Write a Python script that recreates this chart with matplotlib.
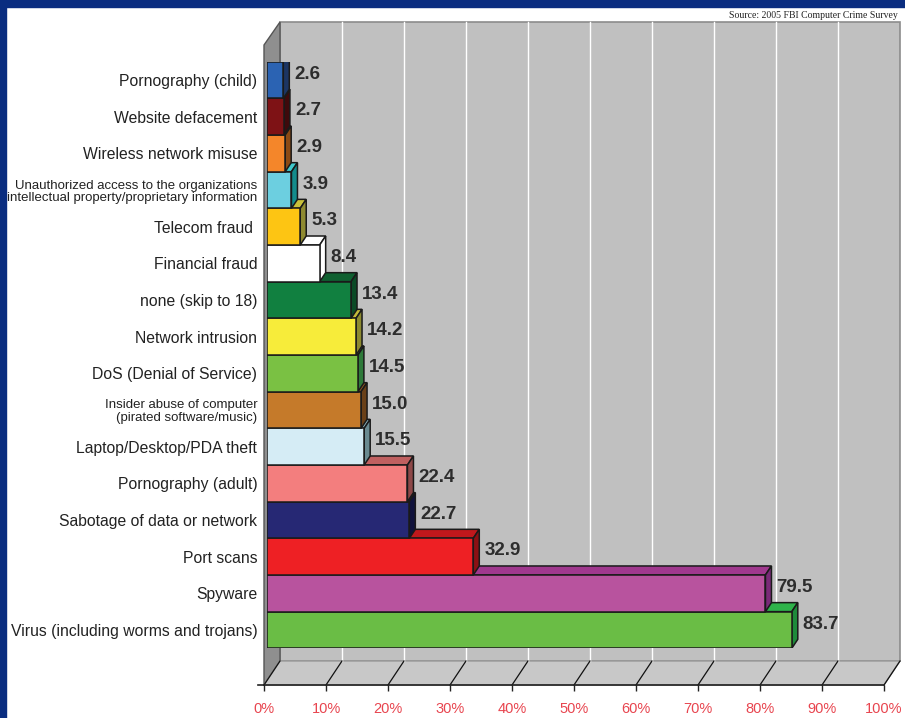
import numpy as np
import matplotlib.pyplot as plt
from matplotlib.patches import Polygon, Rectangle

# dados (de cima para baixo)
categorias = ['Pornography (child)', 'Website defacement', 'Wireless network misuse',
              'Unauthorized access to the organizations\nintellectual property/proprietary information',
              'Telecom fraud ', 'Financial fraud', 'none (skip to 18)', 'Network intrusion',
              'DoS (Denial of Service)', 'Insider abuse of computer\n(pirated software/music)',
              'Laptop/Desktop/PDA theft', 'Pornography (adult)', 'Sabotage of data or network',
              'Port scans', 'Spyware', 'Virus (including worms and trojans)']
valores = [2.6, 2.7, 2.9, 3.9, 5.3, 8.4, 13.4, 14.2, 14.5, 15.0, 15.5, 22.4, 22.7, 32.9, 79.5, 83.7]

cor_frente = ['#2b63b3', '#7e1215', '#f4862a', '#6ccfe0', '#fdc513', '#ffffff', '#118040', '#f7ec3a',
              '#7ac143', '#c57a2a', '#d5ecf5', '#f37e7e', '#262874', '#ee2024', '#b8539e', '#6abd45']
cor_topo = ['#1f57a8', '#6a1012', '#e07020', '#3fc8cc', '#c8c03a', '#ffffff', '#0f6030', '#c2b83a',
            '#5aa83a', '#8a5520', '#8ab0b8', '#c06060', '#1c1e5a', '#c0181c', '#a0388e', '#2eb34a']
cor_lado = ['#1c3563', '#3e0a0c', '#8b4a14', '#138c8c', '#8e8a30', '#ffffff', '#0b4a26', '#8c8a30',
            '#2e7a3a', '#6a4018', '#6a8a90', '#8e4848', '#10123c', '#8c1014', '#7a2a78', '#1e8a3a']

ticks = np.arange(0, 101, 10)

fonte_rotulos = ['Liberation Sans', 'DejaVu Sans']

W, H = 905, 718
fig = plt.figure(figsize=(W / 100, H / 100), dpi=100)

# moldura azul
fig.patches.append(Rectangle((0, 1 - 7 / H), 1, 7 / H, transform=fig.transFigure,
                             color='#0a2d80', zorder=0))
fig.patches.append(Rectangle((0, 0), 6 / W, 1, transform=fig.transFigure,
                             color='#0a2d80', zorder=0))

# =========================
# paredes / piso / eixo x
# =========================
bg = fig.add_axes([264 / W, 33 / H, 620 / W, 663 / H])
bg.set_xlim(0, 100)
bg.set_ylim(0, 1)
bg.patch.set_visible(False)
for s in ['top', 'right', 'left']:
    bg.spines[s].set_visible(False)
bg.spines['bottom'].set_color('#222222')
bg.spines['bottom'].set_linewidth(1.2)
bg.set_yticks([])

dxb = 16 / 6.2
dyb = 24 / 663

bg.add_patch(Rectangle((dxb, dyb), 100, 1 - dyb, fc='#c0c0c0', ec='#8c8c8c', lw=1.2, clip_on=False))
bg.add_patch(Polygon([(0, 0), (0, 640 / 663), (dxb, 1), (dxb, dyb)], closed=True,
                     fc='#8f8f8f', ec='#555555', lw=1, clip_on=False))
bg.add_patch(Polygon([(0, 0), (dxb, dyb), (100 + dxb, dyb), (100, 0)], closed=True,
                     fc='#c8c8c8', ec='#9a9a9a', lw=1, clip_on=False))
for t in ticks[1:-1]:
    bg.plot([t + dxb, t + dxb], [dyb, 1], color='white', lw=1, clip_on=False)
for t in ticks:
    bg.plot([t, t + dxb], [0, dyb], color='#111111', lw=0.9, clip_on=False)
bg.plot([-1, 0], [0, 0], color='#222222', lw=1.2, clip_on=False)

bg.set_xticks(ticks)
bg.set_xticklabels([f'{t}%' for t in ticks], color='#e8454f', fontsize=10.5,
                   family=['Liberation Sans', 'DejaVu Sans'])
bg.tick_params(axis='x', length=4, width=1, color='#222222', pad=8)

# =========================
# barras 3D
# =========================
ax = fig.add_axes([267 / W, (H - 648.3) / H, 627 / W, (648.3 - 61.7) / H])
ax.set_xlim(0, 100)
ax.set_ylim(15.5, -0.5)
ax.patch.set_visible(False)
for s in ax.spines.values():
    s.set_visible(False)
ax.set_xticks([])

ddx = 6 / 6.27
ddy = 9 / 36.66
n = len(valores)
pos = np.arange(n)

barras = ax.barh(pos, valores, height=1, color=cor_frente, edgecolor='#1a1a1a', lw=1.1)
for i, b in enumerate(barras):
    b.set_zorder(100 - 3 * i + 2)

for i in range(n):
    v = valores[i]
    yt = i - 0.5
    yb = i + 0.5
    z = 100 - 3 * i + 1
    topo = Polygon([(0, yt), (v, yt), (v + ddx, yt - ddy), (ddx, yt - ddy)], closed=True,
                   fc=cor_topo[i], ec='#1a1a1a', lw=1.1, zorder=z)
    lado = Polygon([(v, yb), (v, yt), (v + ddx, yt - ddy), (v + ddx, yb - ddy)], closed=True,
                   fc=cor_lado[i], ec='#1a1a1a', lw=1.1, zorder=z)
    ax.add_patch(topo)
    ax.add_patch(lado)
    ax.text(v + 1.75, i - 0.16, f'{v:.1f}', ha='left', va='center', fontsize=13.5,
            fontweight='bold', color='#2d2d2d', family=['Liberation Sans', 'DejaVu Sans'],
            zorder=200)

ax.set_yticks(pos)
ax.set_yticklabels(categorias, family=fonte_rotulos, fontsize=11.3, color='#222222')
ax.tick_params(axis='y', length=0, pad=7)
for lab in ax.get_yticklabels():
    if '\n' in lab.get_text():
        lab.set_fontsize(9.5)
        lab.set_linespacing(1.05)

fig.text(898 / W, 1 - 15 / H, 'Source: 2005 FBI Computer Crime Survey', ha='right', va='center',
         fontsize=7, family=['Liberation Serif', 'DejaVu Serif'], color='#222222')

fig.savefig('out.png', dpi=100)
